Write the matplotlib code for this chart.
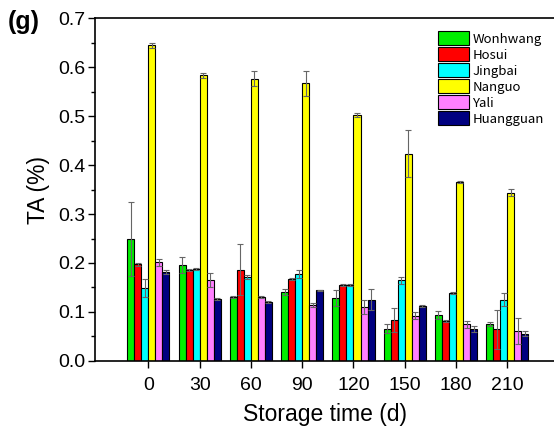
import matplotlib
matplotlib.use("Agg")
import matplotlib.pyplot as plt
import numpy as np

plt.rcParams['font.family'] = ['Liberation Sans', 'DejaVu Sans']

# storage days and cultivars
days = ["0", "30", "60", "90", "120", "150", "180", "210"]
cultivars = ["Wonhwang", "Hosui", "Jingbai", "Nanguo", "Yali", "Huangguan"]
colors = ["#00ee00", "#ff0000", "#00ffff", "#ffff00", "#ff80ff", "#000080"]

# TA (%) per cultivar over storage time
wonhwang = [0.249, 0.196, 0.131, 0.141, 0.128, 0.066, 0.093, 0.075]
hosui = [0.197, 0.186, 0.186, 0.168, 0.154, 0.083, 0.081, 0.064]
jingbai = [0.149, 0.188, 0.172, 0.177, 0.154, 0.165, 0.139, 0.125]
nanguo = [0.645, 0.584, 0.577, 0.567, 0.503, 0.423, 0.366, 0.344]
yali = [0.201, 0.165, 0.130, 0.114, 0.110, 0.092, 0.075, 0.061]
huangguan = [0.181, 0.126, 0.120, 0.144, 0.125, 0.112, 0.065, 0.055]

# standard deviations
wonhwang_sd = [0.076, 0.017, 0.002, 0.006, 0.016, 0.009, 0.008, 0.004]
hosui_sd = [0.003, 0.002, 0.052, 0.002, 0.002, 0.025, 0.002, 0.040]
jingbai_sd = [0.018, 0.002, 0.004, 0.008, 0.002, 0.007, 0.002, 0.013]
nanguo_sd = [0.005, 0.005, 0.015, 0.026, 0.004, 0.048, 0.002, 0.008]
yali_sd = [0.008, 0.015, 0.002, 0.004, 0.015, 0.007, 0.007, 0.027]
huangguan_sd = [0.004, 0.002, 0.002, 0.001, 0.022, 0.002, 0.007, 0.005]

series = [wonhwang, hosui, jingbai, nanguo, yali, huangguan]
errors = [wonhwang_sd, hosui_sd, jingbai_sd, nanguo_sd, yali_sd, huangguan_sd]

fig = plt.figure(figsize=(5.54, 4.28), dpi=100)
ax = fig.add_axes([0.1715, 0.157, 0.8285, 0.800])

x = np.arange(len(days))
w = 0.137
for i, (vals, err) in enumerate(zip(series, errors)):
    pos = x + (i - 2.5) * w
    ax.bar(pos, vals, width=w, color=colors[i], edgecolor="black",
           linewidth=0.8, label=cultivars[i], zorder=2)
    ax.errorbar(pos, vals, yerr=err, fmt="none", ecolor="#666666",
                elinewidth=0.8, capsize=2.5, capthick=0.8, zorder=3)

ax.set_xlim(-1.04, 7.91)
ax.set_ylim(0, 0.7)
ax.set_xticks(x)
ax.set_xticklabels(days)
ax.set_yticks(np.arange(0, 0.71, 0.1))
ax.set_yticklabels([f"{v:.1f}" for v in np.arange(0, 0.71, 0.1)])
ax.set_yticks(np.arange(0.05, 0.7, 0.1), minor=True)
ax.tick_params(axis="both", which="major", direction="out", length=5,
               width=1, labelsize=14)
ax.tick_params(axis="y", which="minor", direction="out", length=3, width=1)
ax.tick_params(axis="x", pad=7)
ax.tick_params(axis="y", pad=2)
for s in ["left", "bottom", "top"]:
    ax.spines[s].set_linewidth(1.2)
ax.spines["right"].set_visible(False)

ax.set_xlabel("Storage time (d)", fontsize=16.5, labelpad=6)
ax.set_ylabel("TA (%)", fontsize=16.5, labelpad=6)

fig.text(0.014, 0.948, "(g)", fontsize=18, fontweight="bold", va="center")

leg = ax.legend(loc="upper right", bbox_to_anchor=(0.995, 0.985),
                frameon=False, handlelength=2.35,
                handleheight=1.25, labelspacing=0.12, handletextpad=0.25,
                borderaxespad=0.2,
                prop={'family': ['Noto Sans CJK JP', 'DejaVu Sans'], 'size': 9.5})

fig.savefig("out.png", dpi=100)
